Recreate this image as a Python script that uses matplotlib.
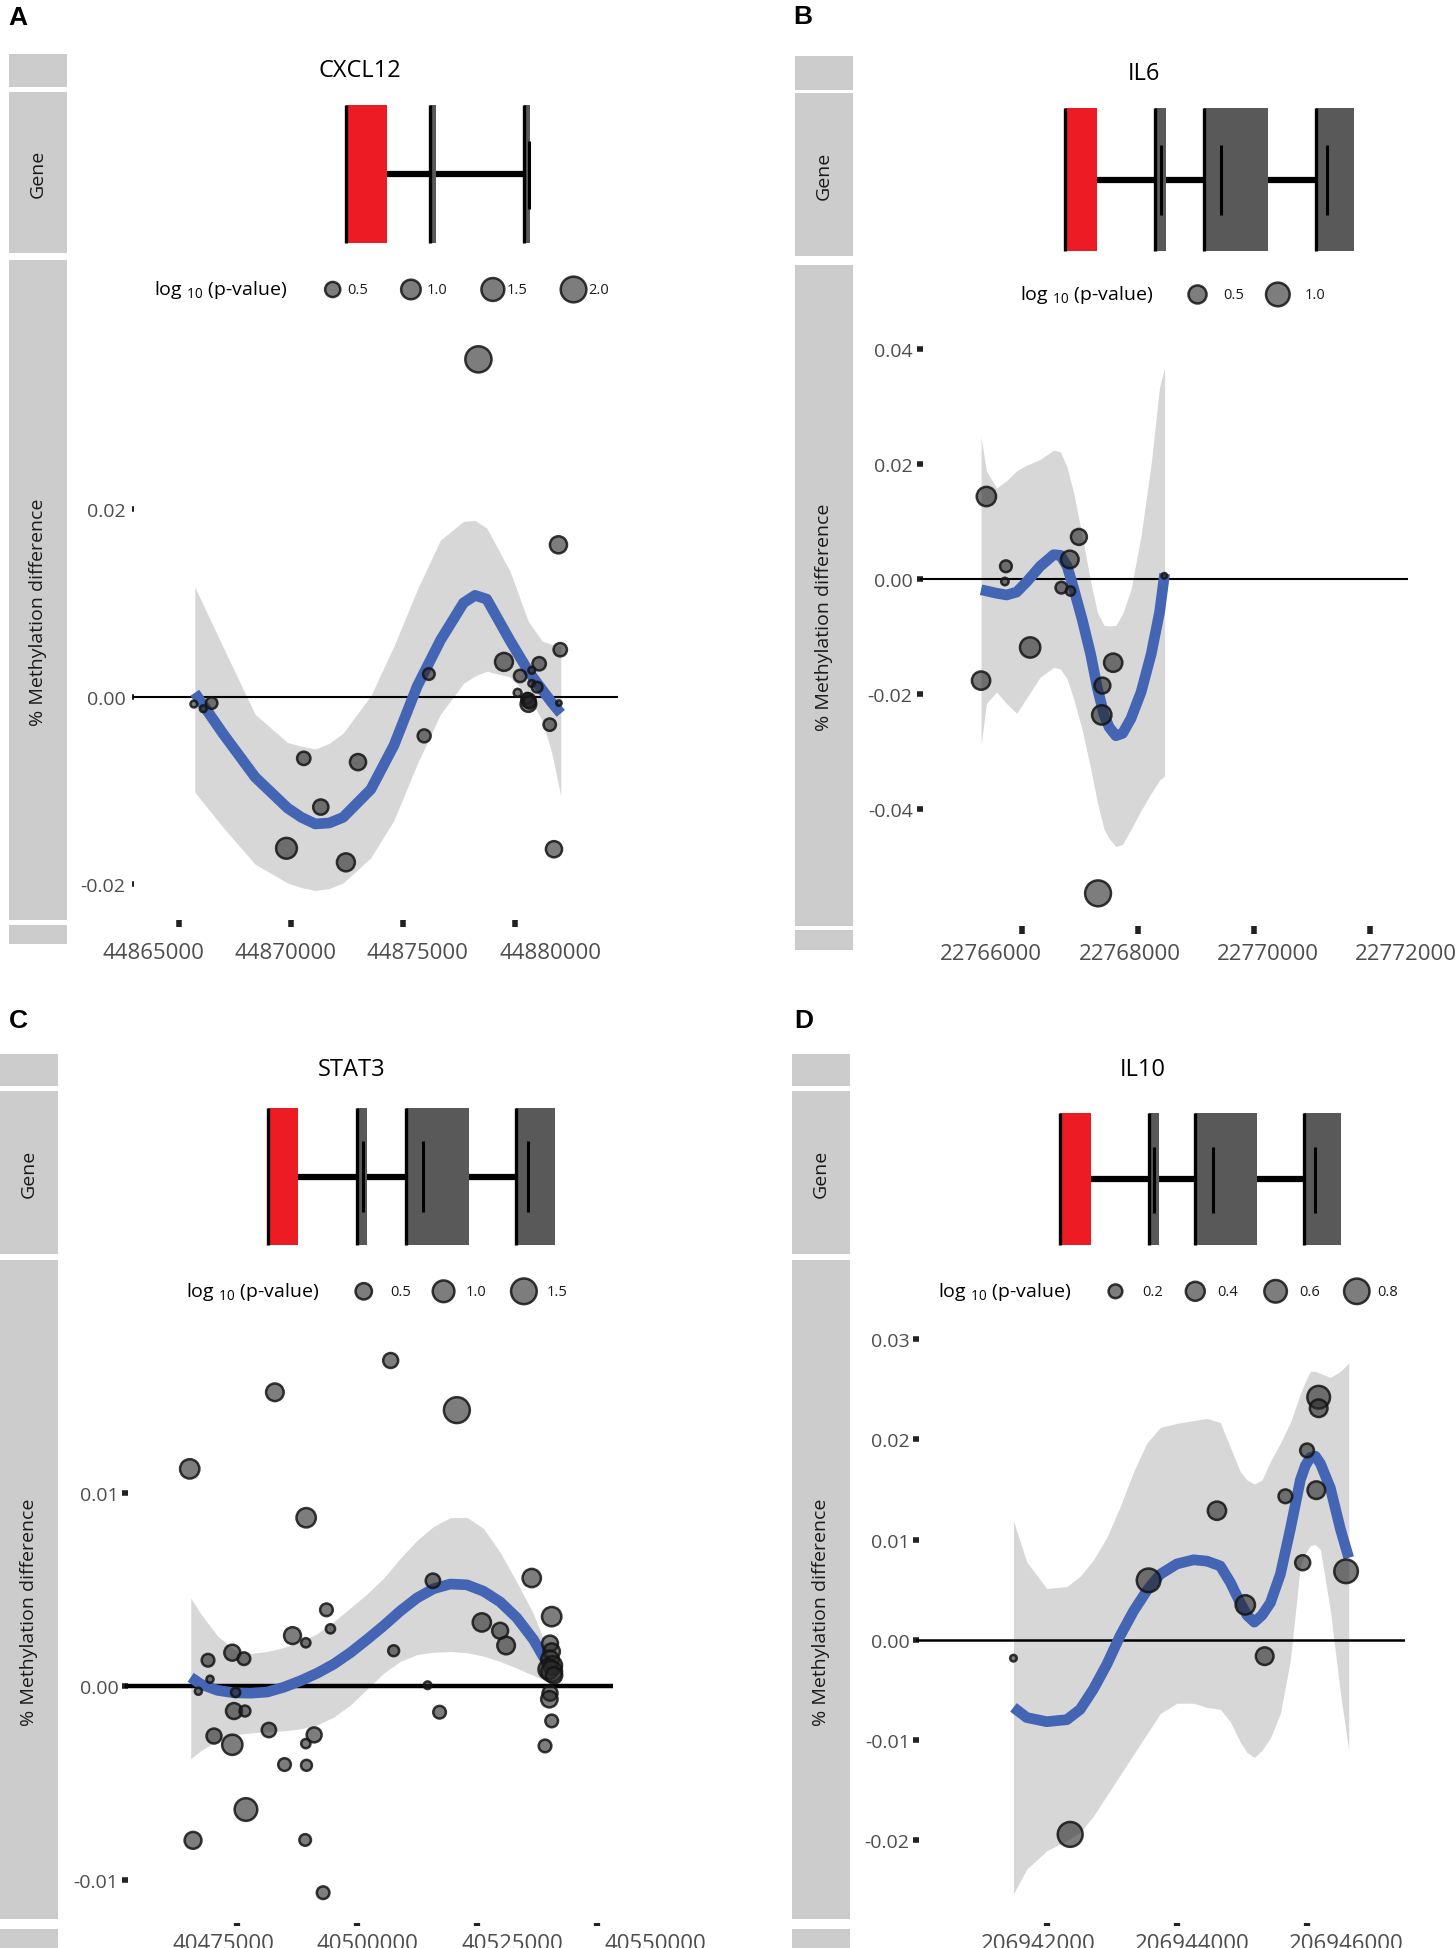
import numpy as np
import matplotlib
matplotlib.use("Agg")
import matplotlib.pyplot as plt
from matplotlib.patches import Rectangle
from matplotlib.transforms import ScaledTranslation

plt.rcParams['font.family'] = ['Open Sans', 'DejaVu Sans']

# ---------------- values ----------------
# A: CXCL12
cxcl12_pos = [44878370, 44881940, 44882020, 44879510, 44881080, 44880230, 44880750, 44880750,
              44880990, 44880120, 44880600, 44880600, 44880550, 44880650, 44881960, 44881550,
              44881740, 44876160, 44875950, 44870580, 44873000, 44871340, 44869810, 44872460,
              44865680, 44866100, 44866470]
cxcl12_diff = [0.0360, 0.0162, 0.0050, 0.0037, 0.0035, 0.0022, 0.0028, 0.0014,
               0.0010, 0.0004, -0.0004, -0.0008, -0.0002, -0.0006, -0.0007, -0.0030,
               -0.0163, 0.0024, -0.0042, -0.0066, -0.0070, -0.0118, -0.0162, -0.0177,
               -0.0008, -0.0013, -0.0007]
cxcl12_logp = [2.10, 0.70, 0.35, 0.80, 0.35, 0.28, 0.06, 0.06,
               0.18, 0.08, 0.40, 0.55, 0.20, 0.30, 0.05, 0.28,
               0.60, 0.23, 0.32, 0.35, 0.60, 0.51, 1.18, 0.80,
               0.06, 0.06, 0.23]
cxcl12_fit_pos = [44865720, 44866960, 44868410, 44869855, 44870475, 44871095, 44871715, 44872335,
                  44873575, 44874605, 44875640, 44876675, 44877705, 44878220, 44878740, 44879775,
                  44880600, 44881220, 44881630, 44882045]
cxcl12_fit = [0.0004, -0.0039, -0.0086, -0.0119, -0.0129, -0.0136, -0.0135, -0.0129,
              -0.0099, -0.0052, 0.0011, 0.0060, 0.0100, 0.0108, 0.0104, 0.0060,
              0.0027, 0.0007, -0.0006, -0.0018]
cxcl12_fit_hi = [0.0117, 0.0054, -0.0019, -0.0049, -0.0053, -0.0056, -0.0050, -0.0039,
                 0.0001, 0.0054, 0.0114, 0.0167, 0.0187, 0.0188, 0.0180, 0.0134,
                 0.0080, 0.0059, 0.0056, 0.0054]
cxcl12_fit_lo = [-0.0102, -0.0139, -0.0179, -0.0199, -0.0204, -0.0207, -0.0205, -0.0199,
                 -0.0172, -0.0132, -0.0072, -0.0019, 0.0014, 0.0022, 0.0027, 0.0021,
                 0.0001, -0.0026, -0.0059, -0.0106]
cxcl12_exon_start = [44872453, 44876191, 44880399]
cxcl12_exon_end = [44874308, 44876468, 44880676]
cxcl12_exon_mark = [44880647]
cxcl12_xticks = [44865000, 44870000, 44875000, 44880000]
cxcl12_yticks = [-0.02, 0.0, 0.02]
cxcl12_breaks = [0.5, 1.0, 1.5, 2.0]

# B: IL6
il6_pos = [22765391, 22765728, 22765710, 22766145, 22765299, 22766986, 22766829, 22766684,
           22766841, 22767577, 22767391, 22767380, 22767316, 22768458]
il6_diff = [0.01433, 0.00219, -0.00046, -0.01194, -0.01771, 0.00730, 0.00338, -0.00153,
            -0.00212, -0.01459, -0.01857, -0.02368, -0.05473, 0.00053]
il6_logp = [0.60, 0.16, 0.06, 0.68, 0.52, 0.36, 0.47, 0.16,
            0.09, 0.52, 0.36, 0.60, 1.25, 0.05]
il6_fit_pos = [22765299, 22765391, 22765565, 22765739, 22765913, 22766087, 22766319, 22766551,
               22766667, 22766783, 22766899, 22767043, 22767188, 22767304, 22767420, 22767507,
               22767623, 22767739, 22767884, 22768058, 22768232, 22768377, 22768464]
il6_fit = [-0.0019, -0.0021, -0.0025, -0.0028, -0.0023, -0.0005, 0.0022, 0.0042,
           0.0041, 0.0022, -0.0018, -0.0071, -0.0131, -0.0190, -0.0237, -0.0258,
           -0.0273, -0.0269, -0.0243, -0.0197, -0.0131, -0.0058, 0.0009]
il6_fit_hi = [0.0247, 0.0188, 0.0158, 0.0171, 0.0188, 0.0198, 0.0208, 0.0224,
              0.0221, 0.0194, 0.0148, 0.0075, -0.0005, -0.0058, -0.0081, -0.0082,
              -0.0081, -0.0061, -0.0018, 0.0075, 0.0201, 0.0334, 0.0367]
il6_fit_lo = [-0.0290, -0.0217, -0.0197, -0.0217, -0.0234, -0.0207, -0.0171, -0.0154,
              -0.0157, -0.0174, -0.0210, -0.0263, -0.0330, -0.0389, -0.0436, -0.0452,
              -0.0466, -0.0462, -0.0436, -0.0403, -0.0373, -0.0350, -0.0343]
il6_exon_start = [22766754, 22768306, 22769136, 22771072]
il6_exon_end = [22767297, 22768481, 22770241, 22771721]
il6_exon_mark = [22768400, 22769440, 22771256]
il6_xticks = [22766000, 22768000, 22770000, 22772000]
il6_yticks = [-0.04, -0.02, 0.0, 0.02, 0.04]
il6_breaks = [0.5, 1.0]

# C: STAT3
stat3_pos = [40465244, 40482957, 40507035, 40520804, 40489461, 40536373, 40515822, 40493682,
             40494512, 40486624, 40489392, 40507658, 40525994, 40529800, 40531045, 40540523,
             40540177, 40474101, 40476522, 40469050, 40469465, 40467043, 40474792, 40474446,
             40476730, 40470295, 40474101, 40481711, 40491121, 40489392, 40484963, 40489530,
             40476937, 40465936, 40489253, 40492989, 40514716, 40517207, 40540523, 40540177,
             40540731, 40539831, 40540523, 40541007, 40540177, 40540039, 40540523, 40539139]
stat3_diff = [0.01122, 0.01517, 0.01681, 0.01425, 0.00870, 0.00559, 0.00545, 0.00395,
              0.00297, 0.00262, 0.00225, 0.00184, 0.00330, 0.00287, 0.00211, 0.00360,
              0.00221, 0.00174, 0.00143, 0.00135, 0.00037, -0.00025, -0.00031, -0.00127,
              -0.00127, -0.00256, -0.00301, -0.00225, -0.00250, -0.00295, -0.00403, -0.00407,
              -0.00635, -0.00794, -0.00792, -0.01064, 0.00006, -0.00133, 0.00180, 0.00139,
              0.00108, 0.00088, 0.00078, 0.00057, -0.00035, -0.00066, -0.00178, -0.00307]
stat3_logp = [0.76, 0.60, 0.40, 1.53, 0.76, 0.66, 0.36, 0.26,
              0.12, 0.54, 0.12, 0.18, 0.66, 0.47, 0.60, 0.76,
              0.47, 0.47, 0.26, 0.26, 0.07, 0.07, 0.12, 0.47,
              0.18, 0.40, 0.85, 0.36, 0.40, 0.12, 0.26, 0.18,
              1.11, 0.54, 0.21, 0.26, 0.08, 0.26, 0.50, 0.60,
              0.70, 0.80, 0.90, 0.50, 0.40, 0.50, 0.26, 0.26]
stat3_fit_pos = [40465452, 40467527, 40470987, 40474446, 40477906, 40481365, 40484825, 40488284,
                 40491744, 40495203, 40498663, 40502122, 40505582, 40509041, 40512501, 40515960,
                 40519420, 40522879, 40526339, 40529798, 40533258, 40536717, 40539485]
stat3_fit = [0.00047, 0.00012, -0.00020, -0.00033, -0.00035, -0.00029, -0.00004, 0.00029,
             0.00068, 0.00115, 0.00174, 0.00242, 0.00313, 0.00389, 0.00456, 0.00504,
             0.00528, 0.00524, 0.00491, 0.00436, 0.00354, 0.00242, 0.00123]
stat3_fit_hi = [0.00456, 0.00375, 0.00262, 0.00190, 0.00170, 0.00180, 0.00201, 0.00231,
                0.00272, 0.00334, 0.00405, 0.00477, 0.00559, 0.00661, 0.00753, 0.00825,
                0.00870, 0.00872, 0.00815, 0.00692, 0.00538, 0.00375, 0.00201]
stat3_fit_lo = [-0.00373, -0.00332, -0.00280, -0.00250, -0.00240, -0.00233, -0.00229, -0.00219,
                -0.00199, -0.00158, -0.00096, -0.00014, 0.00068, 0.00129, 0.00164, 0.00176,
                0.00180, 0.00174, 0.00156, 0.00129, 0.00094, 0.00057, 0.00027]
stat3_exon_start = [40481480, 40500096, 40510141, 40533198]
stat3_exon_end = [40487856, 40502213, 40523257, 40541125]
stat3_exon_mark = [40501259, 40513807, 40535626]
stat3_xticks = [40475000, 40500000, 40525000, 40550000]
stat3_yticks = [-0.01, 0.0, 0.01]
stat3_breaks = [0.5, 1.0, 1.5]

# D: IL10
il10_pos = [206941487, 206942359, 206943564, 206944615, 206945051, 206945349, 206945667,
            206945933, 206946000, 206946143, 206946179, 206946179, 206946600]
il10_diff = [-0.00184, -0.01943, 0.00593, 0.01288, 0.00348, -0.00164, 0.01432,
             0.00769, 0.01890, 0.01493, 0.02421, 0.02311, 0.00683]
il10_logp = [0.10, 0.76, 0.67, 0.37, 0.42, 0.34, 0.20,
             0.24, 0.20, 0.34, 0.61, 0.34, 0.67]
il10_fit_pos = [206941487, 206941692, 206942000, 206942308, 206942513, 206942718, 206942923,
                206943128, 206943333, 206943538, 206943744, 206944000, 206944256, 206944461,
                206944667, 206944820, 206944974, 206945077, 206945190, 206945308, 206945436,
                206945590, 206945743, 206945897, 206945974, 206946051, 206946128, 206946205,
                206946359, 206946513, 206946641]
il10_fit = [-0.00675, -0.00777, -0.00818, -0.00798, -0.00695, -0.00491, -0.00245,
            0.00041, 0.00286, 0.00491, 0.00654, 0.00757, 0.00798, 0.00785,
            0.00736, 0.00573, 0.00368, 0.00245, 0.00176, 0.00245, 0.00368,
            0.00654, 0.01104, 0.01595, 0.01738, 0.01820, 0.01832, 0.01759,
            0.01513, 0.01104, 0.00818]
il10_fit_hi = [0.01186, 0.00777, 0.00511, 0.00532, 0.00634, 0.00798, 0.01023,
               0.01329, 0.01677, 0.01963, 0.02119, 0.02160, 0.02188, 0.02209,
               0.02168, 0.01922, 0.01677, 0.01595, 0.01554, 0.01595, 0.01779,
               0.01963, 0.02168, 0.02454, 0.02577, 0.02679, 0.02679, 0.02659,
               0.02618, 0.02679, 0.02761]
il10_fit_lo = [-0.02536, -0.02290, -0.02106, -0.02004, -0.01922, -0.01759, -0.01554,
               -0.01350, -0.01145, -0.00941, -0.00736, -0.00634, -0.00634, -0.00675,
               -0.00695, -0.00818, -0.01022, -0.01125, -0.01174, -0.01104, -0.00982,
               -0.00736, -0.00205, 0.00736, 0.00859, 0.00941, 0.00949, 0.00900,
               0.00286, -0.00532, -0.01104]
il10_exon_start = [206942198, 206943568, 206944282, 206945952]
il10_exon_end = [206942683, 206943717, 206945238, 206946523]
il10_exon_mark = [206943647, 206944553, 206946122]
il10_xticks = [206942000, 206944000, 206946000]
il10_yticks = [-0.02, -0.01, 0.0, 0.01, 0.02, 0.03]
il10_breaks = [0.2, 0.4, 0.6, 0.8]

# ---------------- layout (pixels on a 1172 x 1570 copy) ----------------
W, H = 1172.0, 1570.0

panels = [
    dict(tag='A', gene='CXCL12', pos=cxcl12_pos, diff=cxcl12_diff, logp=cxcl12_logp,
         fx=cxcl12_fit_pos, fit=cxcl12_fit, lo=cxcl12_fit_lo, hi=cxcl12_fit_hi,
         es=cxcl12_exon_start, ee=cxcl12_exon_end, em=cxcl12_exon_mark,
         xt=cxcl12_xticks, yt=cxcl12_yticks, br=cxcl12_breaks,
         lab=(7, 5), sx=(7, 54), strips=[(44, 71), (75, 205), (210, 742), (746, 761)],
         ax_x=(107, 498), xlim=(44862957, 44884607), ylim=(-0.02387, 0.04664),
         title=(290, 57), leg=(124, 234, [268, 331, 397, 462], [280, 344, 408, 474]),
         box=(0.065, 0.917), mark=(0.275, 0.70), size=(7.8, 14.5, 0.05),
         xtick=(5.0, 4.0, 0.0, 11.0), ytick=(1.7, 4.0, 4.5), xoff=[-25.5, -5, 15, 36], hl=1.5),
    dict(tag='B', gene='IL6', pos=il6_pos, diff=il6_diff, logp=il6_logp,
         fx=il6_fit_pos, fit=il6_fit, lo=il6_fit_lo, hi=il6_fit_hi,
         es=il6_exon_start, ee=il6_exon_end, em=il6_exon_mark,
         xt=il6_xticks, yt=il6_yticks, br=il6_breaks,
         lab=(639, 4), sx=(640, 687), strips=[(46, 73), (76, 207), (214, 747), (750, 766)],
         ax_x=(741, 1134), xlim=(22764245, 22772657), ylim=(-0.06047, 0.05468),
         title=(921.6, 60), leg=(822, 238, [964.6, 1029.3], [985.6, 1051]),
         box=(0.03, 0.908), mark=(0.249, 0.682), size=(8.0, 18.5, 0.05),
         xtick=(5.5, 4.0, 0.0, 6.2), ytick=(4.0, 4.0, 3.2), xoff=[-31, -8, 14, 36], hl=1.5),
    dict(tag='C', gene='STAT3', pos=stat3_pos, diff=stat3_diff, logp=stat3_logp,
         fx=stat3_fit_pos, fit=stat3_fit, lo=stat3_fit_lo, hi=stat3_fit_hi,
         es=stat3_exon_start, ee=stat3_exon_end, em=stat3_exon_mark,
         xt=stat3_xticks, yt=stat3_yticks, br=stat3_breaks,
         lab=(7.5, 813), sx=(0, 47), strips=[(850, 876), (880, 1011), (1016, 1547), (1555, 1575)],
         ax_x=(101, 494), xlim=(40451867, 40553333), ylim=(-0.01202, 0.02198),
         title=(283, 862), leg=(150, 1041, [293, 357.3, 422], [314, 374.9, 440.3]),
         box=(0.053, 0.90), mark=(0.261, 0.697), size=(7.0, 17.5, 0.05),
         xtick=(2.5, 4.5, 2.5, 5.0), ytick=(4.0, 4.0, 3.1), xoff=[-13, 11, 35, 58], hl=3.2),
    dict(tag='D', gene='IL10', pos=il10_pos, diff=il10_diff, logp=il10_logp,
         fx=il10_fit_pos, fit=il10_fit, lo=il10_fit_lo, hi=il10_fit_hi,
         es=il10_exon_start, ee=il10_exon_end, em=il10_exon_mark,
         xt=il10_xticks, yt=il10_yticks, br=il10_breaks,
         lab=(640, 813), sx=(637.6, 684.3), strips=[(850, 876), (880, 1011), (1016, 1547), (1555, 1575)],
         ax_x=(738, 1132), xlim=(206939992, 206947511), ylim=(-0.02792, 0.03788),
         title=(920.2, 862), leg=(755.7, 1041, [898.5, 962.8, 1027.5, 1092.9], [919.8, 980.8, 1046.9, 1109.7]),
         box=(0.053, 0.87), mark=(0.253, 0.659), size=(9.0, 22.5, 0.1),
         xtick=(2.5, 4.5, 2.5, 5.0), ytick=(4.0, 4.0, 2.7), xoff=[-9, 15, 39], hl=1.8),
]

STRIP = '#cccccc'
RED = '#ed1c24'
EXON = '#595959'
BLUE = '#4464b4'
BAND = '#d7d7d7'
PT_FACE = (0.15, 0.15, 0.15, 0.6)
PT_EDGE = (0.08, 0.08, 0.08, 0.85)


def rect(x0, y0, x1, y1):
    return [x0 / W, 1 - y1 / H, (x1 - x0) / W, (y1 - y0) / H]


def area(v, sz):
    # point size scale: diameter grows with sqrt of the value (like ggplot's area scale)
    r1, c, vmin = sz
    d = r1 + c * np.sqrt(np.clip(np.asarray(v, float) - vmin, 0, None))
    return ((d - 2.4) * 0.72) ** 2


fig = plt.figure(figsize=(14.55, 19.49), dpi=100)

for p in panels:
    g0, g1 = p['strips'][1]
    m0, m1 = p['strips'][2]
    x0, x1 = p['ax_x']

    # gene model track
    g = fig.add_axes(rect(x0, g0, x1, g1))
    g.axis('off')
    g.set_xlim(p['xlim'])
    g.set_ylim(0, 1)
    blo, bhi = p['box']
    mid = (blo + bhi) / 2
    g.plot([p['ee'][0], p['es'][-1]], [mid, mid], color='black', lw=4.5,
           solid_capstyle='butt', zorder=1)
    for i, (s, e) in enumerate(zip(p['es'], p['ee'])):
        g.add_patch(Rectangle((s, blo), e - s, bhi - blo, facecolor=RED if i == 0 else EXON,
                              edgecolor='none', zorder=2))
    g.vlines(p['es'], blo, bhi, color='black', lw=2.4, zorder=3)
    g.vlines(p['em'], p['mark'][0], p['mark'][1], color='black', lw=2.2, zorder=3)

    # methylation track
    m = fig.add_axes(rect(x0, m0, x1, m1))
    m.set_xlim(p['xlim'])
    m.set_ylim(p['ylim'])
    for sp in m.spines.values():
        sp.set_visible(False)
    m.fill_between(p['fx'], p['lo'], p['hi'], color=BAND, lw=0, zorder=1)
    m.axhline(0, color='black', lw=p['hl'], zorder=2)
    m.plot(p['fx'], p['fit'], color=BLUE, lw=7.7, solid_capstyle='butt',
           solid_joinstyle='round', zorder=3)
    m.scatter(p['pos'], p['diff'], s=area(p['logp'], p['size']), facecolor=PT_FACE,
              edgecolor=PT_EDGE, linewidths=1.8, zorder=4)

    m.set_xticks(p['xt'])
    m.set_xticklabels([str(t) for t in p['xt']])
    m.set_yticks(p['yt'])
    m.set_yticklabels(['0.00' if t == 0 else f'{t:.2f}' for t in p['yt']])
    tl, tw, tout, tpad = p['xtick']
    if tout:
        m.spines['bottom'].set_position(('outward', tout))
    m.tick_params(axis='x', direction='out', length=tl, width=tw, pad=tpad,
                  labelsize=16, labelcolor='#4d4d4d', color='#222222')
    yl, yw, ypad = p['ytick']
    m.tick_params(axis='y', direction='inout', length=yl, width=yw, pad=ypad,
                  labelsize=14, labelcolor='#4d4d4d', color='#222222')
    for lbl, off in zip(m.get_xticklabels(), p['xoff']):
        lbl.set_transform(lbl.get_transform() + ScaledTranslation(off / 100, 0, fig.dpi_scale_trans))

# overlay for strips, titles, panel letters and size legends
over = fig.add_axes([0, 0, 1, 1])
over.axis('off')
for p in panels:
    sx0, sx1 = p['sx']
    for y0, y1 in p['strips']:
        over.add_patch(Rectangle((sx0, y0), sx1 - sx0, y1 - y0, facecolor=STRIP, lw=0))
    cx = (sx0 + sx1) / 2
    g0, g1 = p['strips'][1]
    m0, m1 = p['strips'][2]
    over.text(cx, (g0 + g1) / 2, 'Gene', rotation=90, ha='center', va='center',
              fontsize=14, color='#1a1a1a')
    over.text(cx, (m0 + m1) / 2 + 17, '% Methylation difference', rotation=90,
              ha='center', va='center', fontsize=14, color='#1a1a1a')
    over.text(p['lab'][0], p['lab'][1], p['tag'], ha='left', va='top', fontsize=19,
              fontweight='bold', family=['Liberation Sans', 'DejaVu Sans'])
    over.text(p['title'][0], p['title'][1], p['gene'], ha='center', va='center', fontsize=17)

    lx, ly, mx, tx = p['leg']
    over.text(lx, ly, r'log ${}_{\mathregular{10}}$ (p-value)', ha='left', va='center', fontsize=14)
    over.scatter(mx, [ly] * len(mx), s=area(p['br'], p['size']), facecolor=PT_FACE,
                 edgecolor=PT_EDGE, linewidths=1.8, clip_on=False)
    for x, b in zip(tx, p['br']):
        over.text(x, ly, f'{b:.1f}', ha='left', va='center', fontsize=10.5, color='#1a1a1a')

over.set_xlim(0, W)
over.set_ylim(H, 0)

fig.savefig('out.png', dpi=100)
